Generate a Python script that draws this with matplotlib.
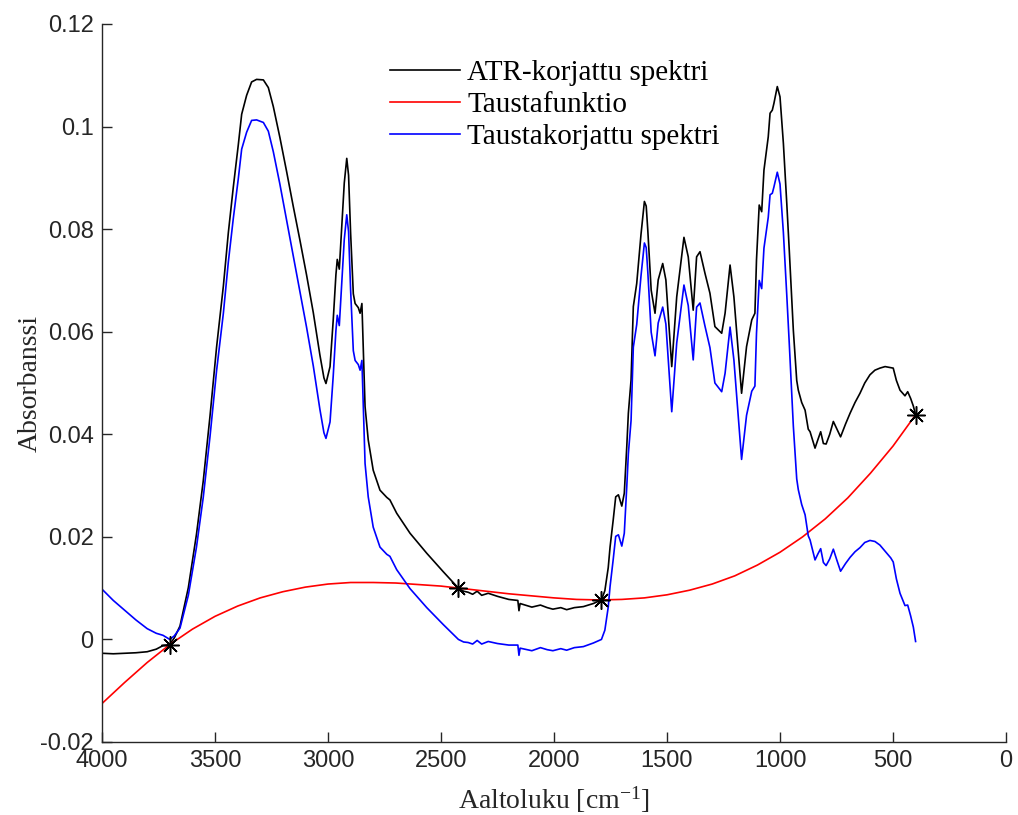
import matplotlib
matplotlib.use("Agg")
import matplotlib.pyplot as plt
from matplotlib.lines import Line2D

# ---------------- data ----------------
wavenumber = [4000, 3950, 3900, 3850, 3800, 3760, 3730, 3700, 3680, 3655, 3618, 3582, 3552,
              3522, 3493, 3463, 3441, 3419, 3397, 3382, 3360, 3338, 3316, 3286, 3264, 3242,
              3213, 3183, 3154, 3124, 3095, 3065, 3036, 3018, 3009, 2991, 2977, 2965, 2959,
              2950, 2940, 2928, 2917, 2909, 2900, 2888, 2880, 2866, 2858, 2850, 2844, 2836,
              2822, 2800, 2770, 2740, 2726, 2710, 2696, 2637, 2563, 2490, 2423, 2400, 2380,
              2360, 2340, 2320, 2291, 2250, 2200, 2160, 2155, 2150, 2120, 2098, 2060, 2030,
              2005, 1970, 1944, 1910, 1870, 1826, 1790, 1775, 1760, 1752, 1738, 1727, 1715,
              1700, 1689, 1678, 1671, 1659, 1649, 1634, 1615, 1600, 1592, 1585, 1570, 1553,
              1539, 1519, 1505, 1479, 1457, 1425, 1406, 1384, 1369, 1354, 1332, 1310, 1288,
              1258, 1243, 1221, 1204, 1170, 1148, 1125, 1111, 1104, 1092, 1081, 1071, 1052,
              1044, 1034, 1027, 1012, 1000, 985, 970, 959, 941, 926, 919, 904, 889, 875, 867,
              845, 832, 820, 808, 796, 780, 764, 748, 732, 710, 690, 668, 646, 625, 602, 580,
              558, 535, 510, 499, 485, 469, 447, 435, 422, 410, 400]

atr_spectrum = [-0.0027, -0.0028, -0.0027, -0.0026, -0.0024, -0.0019, -0.0012, -0.0010, 0.0003,
                0.0026, 0.0101, 0.0205, 0.0309, 0.0436, 0.0570, 0.0689, 0.0793, 0.0882, 0.0964,
                0.1024, 0.1061, 0.1087, 0.1092, 0.1091, 0.1076, 0.1039, 0.0979, 0.0912, 0.0845,
                0.0778, 0.0711, 0.0637, 0.0555, 0.0510, 0.0499, 0.0532, 0.0622, 0.0711, 0.0741,
                0.0722, 0.0800, 0.0890, 0.0938, 0.0905, 0.0793, 0.0674, 0.0655, 0.0647, 0.0636,
                0.0655, 0.0571, 0.0454, 0.0389, 0.0330, 0.0291, 0.0277, 0.0272, 0.0258, 0.0246,
                0.0207, 0.0168, 0.0132, 0.0100, 0.0094, 0.0092, 0.0088, 0.0094, 0.0086, 0.0090,
                0.0084, 0.0078, 0.0076, 0.0056, 0.0070, 0.0066, 0.0063, 0.0067, 0.0062, 0.0059,
                0.0062, 0.0058, 0.0062, 0.0064, 0.0070, 0.0077, 0.0095, 0.0140, 0.0180, 0.0233,
                0.0278, 0.0282, 0.0260, 0.0285, 0.0376, 0.0441, 0.0506, 0.0649, 0.0694, 0.0790,
                0.0854, 0.0845, 0.0798, 0.0681, 0.0636, 0.0701, 0.0733, 0.0701, 0.0532, 0.0668,
                0.0784, 0.0746, 0.0642, 0.0746, 0.0756, 0.0714, 0.0675, 0.0610, 0.0597, 0.0636,
                0.0730, 0.0668, 0.0480, 0.0571, 0.0623, 0.0636, 0.0740, 0.0847, 0.0834, 0.0915,
                0.0980, 0.1026, 0.1032, 0.1045, 0.1078, 0.1058, 0.0967, 0.0850, 0.0759, 0.0603,
                0.0505, 0.0486, 0.0462, 0.0447, 0.0410, 0.0405, 0.0373, 0.0390, 0.0405, 0.0382,
                0.0381, 0.0400, 0.0425, 0.0410, 0.0395, 0.0420, 0.0441, 0.0462, 0.0480, 0.0500,
                0.0516, 0.0525, 0.0529, 0.0532, 0.0530, 0.0529, 0.0505, 0.0486, 0.0475, 0.0483,
                0.0470, 0.0455, 0.0438]

corrected_spectrum = [0.0098, 0.0076, 0.0057, 0.0038, 0.0021, 0.0012, 0.0008, 0.0000, 0.0007,
                      0.0022, 0.0086, 0.0180, 0.0277, 0.0396, 0.0524, 0.0636, 0.0736, 0.0821,
                      0.0898, 0.0956, 0.0989, 0.1012, 0.1013, 0.1008, 0.0991, 0.0951, 0.0888,
                      0.0817, 0.0748, 0.0678, 0.0609, 0.0533, 0.0449, 0.0403, 0.0392, 0.0424,
                      0.0513, 0.0602, 0.0632, 0.0612, 0.0690, 0.0780, 0.0828, 0.0795, 0.0682,
                      0.0563, 0.0544, 0.0536, 0.0525, 0.0544, 0.0460, 0.0343, 0.0278, 0.0219,
                      0.0180, 0.0166, 0.0162, 0.0148, 0.0136, 0.0099, 0.0062, 0.0029, 0.0000,
                      -0.0005, -0.0006, -0.0009, -0.0002, -0.0009, -0.0004, -0.0008, -0.0011,
                      -0.0011, -0.0031, -0.0017, -0.0020, -0.0022, -0.0016, -0.0020, -0.0022,
                      -0.0018, -0.0021, -0.0016, -0.0014, -0.0007, 0.0000, 0.0018, 0.0063,
                      0.0103, 0.0156, 0.0201, 0.0204, 0.0182, 0.0207, 0.0298, 0.0362, 0.0427,
                      0.0570, 0.0614, 0.0709, 0.0773, 0.0764, 0.0717, 0.0599, 0.0553, 0.0617,
                      0.0648, 0.0615, 0.0444, 0.0578, 0.0691, 0.0651, 0.0545, 0.0648, 0.0656,
                      0.0611, 0.0569, 0.0500, 0.0483, 0.0519, 0.0609, 0.0545, 0.0351, 0.0437,
                      0.0484, 0.0494, 0.0597, 0.0700, 0.0684, 0.0763, 0.0823, 0.0867, 0.0870,
                      0.0882, 0.0911, 0.0888, 0.0793, 0.0671, 0.0577, 0.0416, 0.0313, 0.0292,
                      0.0263, 0.0243, 0.0202, 0.0194, 0.0155, 0.0167, 0.0177, 0.0150, 0.0144,
                      0.0157, 0.0176, 0.0154, 0.0133, 0.0148, 0.0160, 0.0171, 0.0179, 0.0189,
                      0.0193, 0.0191, 0.0184, 0.0172, 0.0159, 0.0151, 0.0118, 0.0090, 0.0066,
                      0.0067, 0.0046, 0.0024, -0.0004]

background_wn = [4000, 3900, 3800, 3700, 3600, 3500, 3400, 3300, 3200, 3100, 3000, 2900, 2800,
                 2700, 2600, 2500, 2400, 2300, 2200, 2100, 2000, 1900, 1800, 1700, 1600, 1500,
                 1400, 1300, 1200, 1100, 1000, 900, 800, 700, 600, 500, 400]
background = [-0.0125, -0.0084, -0.0045, -0.0010, 0.0020, 0.0045, 0.0065, 0.0081, 0.0093,
              0.0102, 0.0108, 0.0111, 0.0111, 0.0110, 0.0107, 0.0104, 0.0099, 0.0094, 0.0089,
              0.0085, 0.0081, 0.0078, 0.0077, 0.0078, 0.0081, 0.0087, 0.0096, 0.0108, 0.0124,
              0.0145, 0.0170, 0.0200, 0.0235, 0.0276, 0.0324, 0.0377, 0.0438]

anchor_wn = [3700, 2423, 1790, 400]
anchor_val = [-0.0010, 0.0100, 0.0077, 0.0438]

series_labels = ["ATR-korjattu spektri", "Taustafunktio", "Taustakorjattu spektri"]
xticks = [4000, 3500, 3000, 2500, 2000, 1500, 1000, 500, 0]
yticks = [-0.02, 0.0, 0.02, 0.04, 0.06, 0.08, 0.10, 0.12]
ytick_labels = ["-0.02", "0", "0.02", "0.04", "0.06", "0.08", "0.1", "0.12"]

# ---------------- figure ----------------
plt.rcParams['mathtext.fontset'] = 'custom'
plt.rcParams['mathtext.rm'] = 'Liberation Serif'
plt.rcParams['mathtext.it'] = 'Liberation Serif:italic'

W, H = 1018, 815
fig = plt.figure(figsize=(W / 100, H / 100), dpi=100)
ax = fig.add_axes([102 / W, 1 - 742 / H, (1006 - 102) / W, (742 - 24) / H])

axis_col = '#262626'
lw = 1.2
ax.plot(wavenumber, atr_spectrum, color='black', lw=lw, label=series_labels[0])
ax.plot(background_wn, background, color='#ff0000', lw=lw, label=series_labels[1])
ax.plot(wavenumber, corrected_spectrum, color='#0000ff', lw=lw, label=series_labels[2])
ax.plot(anchor_wn, anchor_val, linestyle='none', marker=(8, 2, 0), markersize=13,
        markeredgewidth=1.1, color='black')

ax.set_xlim(4000, 0)
ax.set_ylim(-0.02, 0.12)
ax.set_xticks(xticks)
ax.set_yticks(yticks)
ax.set_yticklabels(ytick_labels)
tickfont = ['Liberation Sans Narrow', 'Liberation Sans']
for lab in ax.get_xticklabels() + ax.get_yticklabels():
    lab.set_fontfamily(tickfont)
    lab.set_fontsize(17)
    lab.set_color(axis_col)
ax.tick_params(direction='in', length=7, width=1, color=axis_col, pad=6)

for s in ['top', 'right']:
    ax.spines[s].set_visible(False)
for s in ['left', 'bottom']:
    ax.spines[s].set_color(axis_col)
    ax.spines[s].set_linewidth(1.0)

ax.set_xlabel(r"Aaltoluku [cm$^{\mathrm{-1}}$]", fontfamily='Liberation Serif',
              fontsize=20, color=axis_col, labelpad=9)
ax.set_ylabel("Absorbanssi", fontfamily='Liberation Serif', fontsize=20,
              color=axis_col, labelpad=-2)

handles = [Line2D([], [], color='black', lw=lw),
           Line2D([], [], color='#ff0000', lw=lw),
           Line2D([], [], color='#0000ff', lw=lw)]
leg = ax.legend(handles, series_labels, loc='upper left',
                bbox_to_anchor=(390 / W, 1 - 60 / H), bbox_transform=fig.transFigure,
                frameon=False, borderpad=0, borderaxespad=0, handlelength=2.4,
                handletextpad=0.25, labelspacing=0.19,
                prop={'family': 'Liberation Serif', 'size': 21})

fig.savefig("out.png", dpi=100)
